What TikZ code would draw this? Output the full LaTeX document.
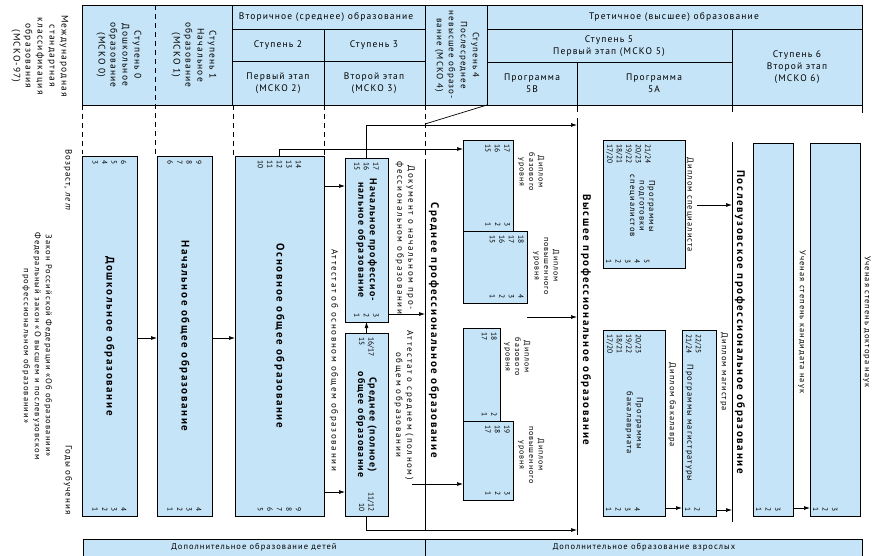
\documentclass[tikz,border=0pt]{standalone}
\usepackage{fontspec}
\setmainfont{PT Sans}
\newfontfamily\rg[LetterSpace=12]{PT Sans}
\newfontfamily\rw[LetterSpace=18]{PT Sans}
\newfontfamily\rb[LetterSpace=15]{PT Sans}
\usetikzlibrary{arrows.meta,calc}
\definecolor{bl}{HTML}{C6E4F7}
\newcommand\mkbox[5]{\node[bx,minimum width={(#4-#2)*1pt},minimum height={(#5-#3)*1pt}] (#1) at ({(#2+#4)/2},{(#3+#5)/2}) {};}
\newcommand\nTC[3]{\node[num,anchor=west,align=left] (#1) at ($(#2.north)+(0,4)$) {#3};}
\newcommand\nBC[3]{\node[num,anchor=east,align=right] (#1) at ($(#2.south)+(0,-4)$) {#3};}
\newcommand\nTL[3]{\node[num,anchor=south west,align=left] (#1) at ($(#2.north west)+(3,4)$) {#3};}
\newcommand\nBL[3]{\node[num,anchor=south east,align=right] (#1) at ($(#2.south west)+(3,-4)$) {#3};}
\newcommand\nTR[3]{\node[num,anchor=north west,align=left] (#1) at ($(#2.north east)+(-3,4)$) {#3};}
\newcommand\nBR[3]{\node[num,anchor=north east,align=right] (#1) at ($(#2.south east)+(-3,-4)$) {#3};}
\begin{document}
\begin{tikzpicture}[x=1pt,y=-1pt,
  bx/.style={draw,fill=bl,line width=0.8pt,inner sep=0pt,outer sep=0pt},
  rt/.style={rotate=-90,inner sep=0.5pt,align=center,font=\rw\fontsize{9}{11}\selectfont},
  rts/.style={rt,font=\rg\fontsize{8}{9.5}\selectfont},
  rtm/.style={rt,font=\rg\fontsize{8.5}{10}\selectfont},
  bt/.style={rt,font=\rb\bfseries\fontsize{11}{13}\selectfont},
  bts/.style={rt,font=\rg\bfseries\fontsize{10}{11.5}\selectfont},
  num/.style={rotate=-90,inner sep=0pt,font=\fontsize{7.5}{9.5}\selectfont},
  hd/.style={align=center,inner sep=0pt,font=\rg\fontsize{9.5}{12}\selectfont},
  hr/.style={rotate=-90,align=center,inner sep=0pt,font=\rg\fontsize{9.5}{12}\selectfont},
  arr/.style={-{Latex[length=6pt,width=4pt]},line width=0.7pt},
  ln/.style={line width=0.7pt},
  dsh/.style={line width=0.7pt,dash pattern=on 5pt off 4pt}]
\useasboundingbox (0,0) rectangle (877,556);
% header
\node[bx,minimum width=780pt,minimum height=100pt] (hdr) at (472,55) {};
\draw[dsh] (155,5) -- (155,154);
\draw[ln] (232,5) -- (232,105); \draw[dsh] (233,105) -- (233,155);
\draw[ln] (232,29) -- (425,29);
\draw[ln] (232,61) -- (425,61);
\draw[ln] (324,29) -- (324,105); \draw[dsh] (324,105) -- (324,155);
\draw[ln] (425,5) -- (425,105); \draw[dsh] (425,105) -- (425,160);
\draw[ln] (487,5) -- (487,105);
\draw[ln] (487,29) -- (862,29);
\draw[ln] (487,62) -- (732,62);
\draw[ln] (577,62) -- (577,112);
\draw[ln] (732,29) -- (732,112);
\draw[ln] (862,105) -- (862,113);
\draw[dsh] (82,105) -- (82,154);
\draw[ln] (487,105) -- (425,124);
\node[hr] (isced) at (40,56) {Международная\\стандартная\\классификация\\образования\\(МСКО-97)};
\node[hr] (st0) at (119,55) {Ступень 0\\Дошкольное\\образование\\(МСКО 0)};
\node[hr] (st1) at (194,55) {Ступень 1\\Начальное\\образование\\(МСКО 1)};
\node[hd] (sec) at (326,17) {Вторичное (среднее) образование};
\node[hd] (st2) at (278,45) {Ступень 2};
\node[hd] (st3) at (374,45) {Ступень 3};
\node[hd] (e2) at (278,83) {Первый этап\\(МСКО 2)};
\node[hd] (e3) at (374,83) {Второй этап\\(МСКО 3)};
\node[hr,font=\rg\fontsize{9}{12}\selectfont] (st4) at (457,55) {Ступень 4\\Послесреднее\\невысшее образо-\\вание (МСКО 4)};
\node[hd] (ter) at (674,17) {Третичное (высшее) образование};
\node[hd] (st5) at (609,46) {Ступень 5\\Первый этап (МСКО 5)};
\node[hd] (p5b) at (532,83) {Программа\\5B};
\node[hd] (p5a) at (654,83) {Программа\\5A};
\node[hd] (st6) at (797,67) {Ступень 6\\Второй этап\\(МСКО 6)};
% left labels
\node[rt,font=\rg\fontsize{9}{11}\selectfont] (vozr) at (68,180) {Возраст, \textit{лет}};
\node[rt,font=\rg\fontsize{8.5}{11}\selectfont] (zakon) at (37,346) {Закон Российской Федерации «Об образовании»\\Федеральный закон «О высшем и послевузовском\\профессиональном образовании»};
\node[rt,font=\rg\fontsize{9}{11}\selectfont] (gody) at (68,480) {Годы обучения};
% boxes
\mkbox{dosh}{82}{156}{137}{516}
\mkbox{nach}{157}{156}{212}{516}
\mkbox{osn}{235}{156}{324}{516}
\mkbox{npo}{345}{158}{388}{322}
\mkbox{soo}{345}{333}{388}{516}
\mkbox{bA}{463}{140}{513}{231}
\mkbox{bB}{463}{231}{527}{303}
\mkbox{bC}{463}{328}{500}{421}
\mkbox{bD}{463}{421}{513}{500}
\mkbox{spec}{603}{140}{685}{268}
\mkbox{bak}{603}{330}{665}{516}
\mkbox{mag}{682}{330}{716}{516}
\mkbox{kand}{753}{143}{793}{516}
\mkbox{doc}{810}{143}{860}{516}
% box labels
\node[bt] (ldosh) at (dosh.center) {Дошкольное образование};
\node[bt] (lnach) at (nach.center) {Начальное общее образование};
\node[bt] (losn) at (osn.center) {Основное общее образование};
\node[bts] (lnpo) at (npo.center) {Начальное профессио-\\нальное образование};
\node[bts] (lsoo) at (soo.center) {Среднее (полное)\\общее образование};
\node[rtm,font=\rg\fontsize{8.5}{9.5}\selectfont] (lspec) at (642,206) {Программы\\подготовки\\специалистов};
\node[rtm] (lbak) at (bak.center) {Программы\\бакалавриата};
% numbers
\nTC{adosh}{dosh}{6\\5\\4\\3} \nBC{ydosh}{dosh}{4\\3\\2\\1}
\nTC{anach}{nach}{9\\8\\7\\6} \nBC{ynach}{nach}{4\\3\\2\\1}
\nTC{aosn}{osn}{14\\13\\12\\11\\10} \nBC{yosn}{osn}{9\\8\\7\\6\\5}
\nTC{anpo}{npo}{17\\16\\15} \nBC{ynpo}{npo}{3\\2\\1}
\nTC{asoo}{soo}{16/17\\15} \nBC{ysoo}{soo}{11/12\\10}
\nTR{abA}{bA}{17\\16\\15} \nBR{ybA}{bA}{3\\2\\1}
\nTR{abB}{bB}{18\\17\\16\\15} \nBR{ybB}{bB}{4\\3\\2\\1}
\nTR{abC}{bC}{18\\17} \nBR{ybC}{bC}{2\\1}
\nTR{abD}{bD}{19\\18\\17} \nBR{ybD}{bD}{3\\2\\1}
\nTL{aspec}{spec}{21/24\\20/23\\19/22\\18/21\\17/20} \nBL{yspec}{spec}{5\\4\\3\\2\\1}
\nTL{abak}{bak}{20/23\\19/22\\18/21\\17/20} \nBL{ybak}{bak}{4\\3\\2\\1}
\nTL{amag}{mag}{22/25\\21/24} \nBL{ymag}{mag}{2\\1}
\nBL{ykand}{kand}{3\\2\\1}
\nBL{ydoc}{doc}{3\\2\\1}
\node[rtm,anchor=west] (lmag) at (689.5,364) {Программы магистратуры};
% side labels
\node[rt] (att1) at (334,360) {Аттестат об основном общем образовании};
\node[rt] (docnpo) at (405,238) {Документ о начальном про-\\фессиональном образовании};
\node[rt] (att2) at (404,405) {Аттестат о среднем (полном)\\общем образовании};
\node[bt] (lspo) at (434,330) {Среднее профессиональное образование};
\node[rts] (dA) at (531,172) {Диплом\\базового\\уровня};
\node[rts] (dB) at (546,266) {Диплом\\повышенного\\уровня};
\node[rts] (dC) at (517,357) {Диплом\\базового\\уровня};
\node[rts] (dD) at (531,455) {Диплом\\повышенного\\уровня};
\node[bt] (lvpo) at (586,320) {Высшее профессиональное образование};
\node[rtm] (dspec) at (690,205) {Диплом специалиста};
\node[rtm] (dbak) at (672,405) {Диплом бакалавра};
\node[rtm] (dmag) at (724,372) {Диплом магистра};
\node[bt] (lpv) at (740,322) {Послевузовское профессиональное образование};
\node[rtm] (lkand) at (802,322) {Ученая степень кандидата наук};
\node[rtm] (ldoc) at (867,322) {Ученая степень доктора наук};
% long lines
\coordinate (spT) at (425,160); \coordinate (spB) at (425,531);
\draw[ln] (spT) -- (spB);
\coordinate (vpT) at (577,118); \coordinate (vpB) at (577,535);
\draw[ln] (vpT) -- (vpB);
\coordinate (pvT) at (732,142); \coordinate (pvB) at (732,522);
\draw[ln] (pvT) -- (pvB);
% arrows
\draw[arr] (dosh.east |- 0,338) -- (nach.west |- 0,338);
\draw[arr] (nach.east |- 0,338) -- (osn.west |- 0,338);
\draw[arr] (osn.east |- 0,186) -- (npo.west |- 0,186);
\draw[arr] (osn.east |- 0,492) -- (soo.west |- 0,492);
\draw[arr] (osn.north) |- (bA.west |- 0,149);
\draw[arr] (npo.north) |- (vpT |- 0,125);
\draw[arr] (soo.north) -- (npo.south);
\draw[arr] (npo.east |- 0,314) -- (spT |- 0,314);
\coordinate (a2s) at (412,484);
\draw[arr] (a2s) -- (bD.west |- a2s);
\draw[arr] (soo.south) |- (vpB |- 0,530);
\coordinate (d2s) at (527,317);
\draw[arr] (d2s) -- (vpT |- d2s);
\coordinate (sps) at (697,205);
\draw[arr] (sps) -- (pvT |- sps);
\draw[arr] (bak.east |- 0,508) -- (mag.west |- 0,508);
\draw[arr] (mag.east |- 0,510) -- (pvT |- 0,510);
\draw[arr] (kand.east |- 0,508) -- (doc.west |- 0,508);
% bottom band
\node[bx,minimum width=779pt,minimum height=17pt] (band) at (472.5,547.5) {};
\draw[ln] (425,539) -- (425,556);
\node[hd,font=\rg\fontsize{8.5}{10}\selectfont] (dchild) at (254,547.5) {Дополнительное образование детей};
\node[hd,font=\rg\fontsize{8.5}{10}\selectfont] (dadult) at (644,547.5) {Дополнительное образование взрослых};
\end{tikzpicture}
\end{document}
